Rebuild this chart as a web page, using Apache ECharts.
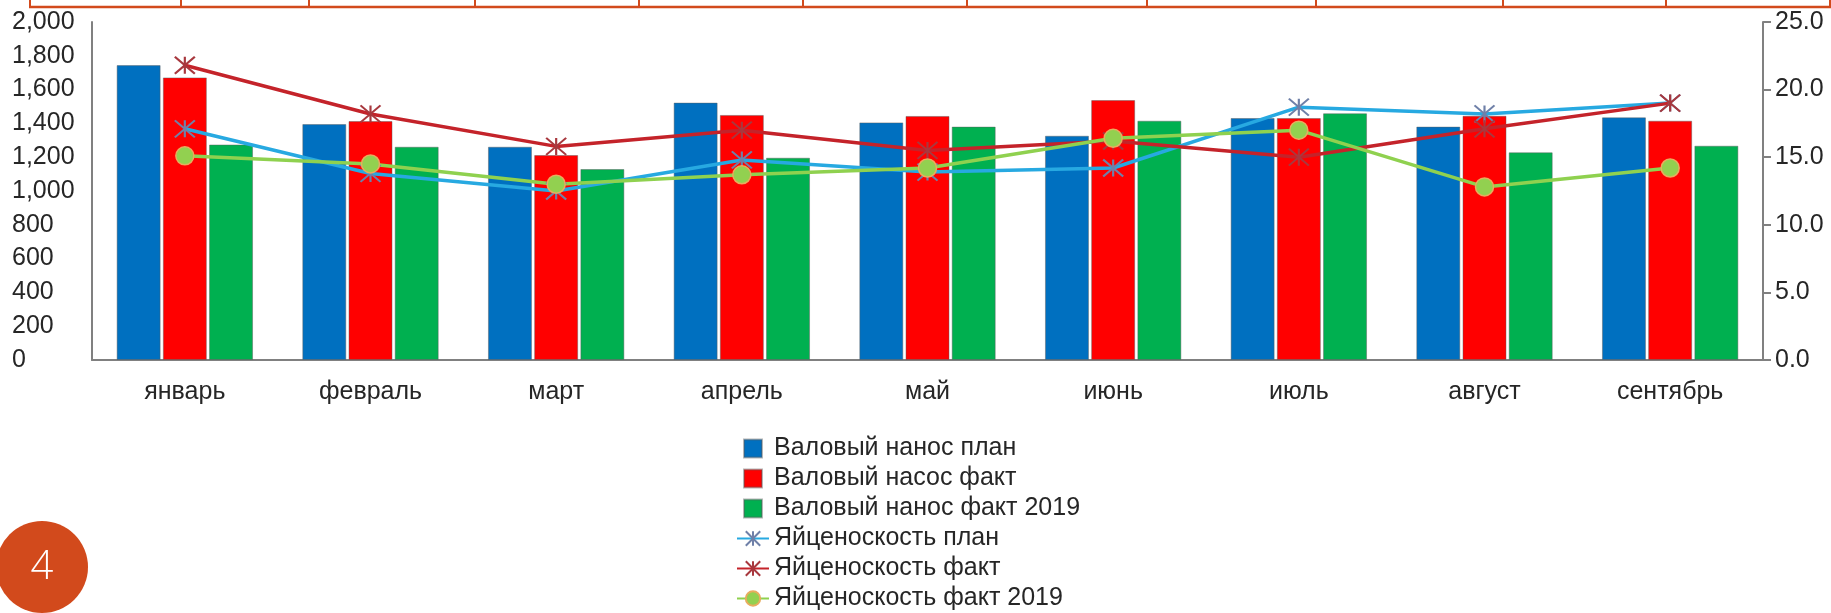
<!DOCTYPE html>
<html>
<head>
    <meta charset="utf-8">
    <title>Валовый нанос и яйценоскость</title>
    <script src="https://cdn.jsdelivr.net/npm/echarts@6/dist/echarts.min.js"></script>
    <style>
        html, body { margin: 0; padding: 0; background: #fff; }
        #main { width: 1831px; height: 613px; }
    </style>
</head>
<body>
    <div id="main"></div>

    <script type="text/javascript">
        // месяцы (ось X)
        var months = ['январь', 'февраль', 'март', 'апрель', 'май', 'июнь', 'июль', 'август', 'сентябрь'];

        // валовый нанос (левая ось)
        var nanosPlan = [1745, 1396, 1262, 1523, 1406, 1327, 1432, 1381, 1436];
        var nanosFact = [1672, 1414, 1213, 1450, 1444, 1538, 1432, 1445, 1416];
        var nanosFact2019 = [1275, 1262, 1130, 1197, 1381, 1416, 1460, 1229, 1268];

        // яйценоскость (правая ось)
        var eggPlan = [17.1, 13.8, 12.5, 14.8, 13.9, 14.2, 18.7, 18.2, 19.0];
        var eggFact = [21.8, 18.2, 15.8, 17.0, 15.5, 16.2, 15.0, 17.1, 19.0];
        var eggFact2019 = [15.1, 14.5, 13.0, 13.7, 14.2, 16.4, 17.0, 12.8, 14.2];

        var leftTicks = [0, 2000, 200];
        var rightTicks = [0, 25, 5];

        var names = [
            'Валовый нанос план',
            'Валовый насос факт',
            'Валовый нанос факт 2019',
            'Яйценоскость план',
            'Яйценоскость факт',
            'Яйценоскость факт 2019'
        ];

        var font = "'Liberation Sans', Arial, sans-serif";
        var textColor = '#262626';
        var axisColor = '#808080';
        var orange = '#d24a1c';
        var starIcon = 'path://M0,0L20,16M20,0L0,16M10,0L10,16';
        var squareIcon = 'path://M0,0H10V10H0Z';

        var chart = echarts.init(document.getElementById('main'));
        chart.setOption({
            animation: false,
            textStyle: { fontFamily: font },
            grid: {
                left: 92, right: 68, top: 22, bottom: 253
            },
            legend: {
                orient: 'vertical',
                left: 736,
                top: 436,
                height: 177,
                padding: 0,
                itemWidth: 32,
                itemHeight: 18,
                itemGap: 5,
                textStyle: { fontFamily: font, fontSize: 25, lineHeight: 25, color: textColor },
                data: [
                    { name: names[0], icon: squareIcon },
                    { name: names[1], icon: squareIcon },
                    { name: names[2], icon: squareIcon },
                    names[3], names[4], names[5]
                ]
            },
            xAxis: {
                type: 'category',
                data: months,
                axisLine: { show: true, lineStyle: { color: axisColor, width: 2 } },
                axisTick: { show: false },
                axisLabel: { color: textColor, fontSize: 25, margin: 20, fontFamily: font }
            },
            yAxis: [
                {
                    type: 'value',
                    min: leftTicks[0], max: leftTicks[1], interval: leftTicks[2],
                    splitLine: { show: false },
                    axisLine: { show: true, lineStyle: { color: axisColor, width: 2 } },
                    axisTick: { show: false },
                    axisLabel: {
                        color: textColor, fontSize: 25, fontFamily: font,
                        align: 'left', margin: 80,
                        formatter: function (v) { return v.toLocaleString('en-US'); }
                    }
                },
                {
                    type: 'value',
                    min: rightTicks[0], max: rightTicks[1], interval: rightTicks[2],
                    position: 'right',
                    splitLine: { show: false },
                    axisLine: { show: true, lineStyle: { color: axisColor, width: 2 } },
                    axisTick: { show: true, length: 8, lineStyle: { color: axisColor, width: 2 } },
                    axisLabel: {
                        color: textColor, fontSize: 25, fontFamily: font, margin: 12,
                        formatter: function (v) { return v.toFixed(1); }
                    }
                }
            ],
            series: [
                {
                    name: names[0], type: 'bar', data: nanosPlan,
                    barWidth: 44, barGap: '5%',
                    itemStyle: { color: '#0070c0', borderColor: 'rgba(90,90,90,0.45)', borderWidth: 1 }
                },
                {
                    name: names[1], type: 'bar', data: nanosFact,
                    barWidth: 44, barGap: '5%',
                    itemStyle: { color: '#ff0000', borderColor: 'rgba(90,90,90,0.45)', borderWidth: 1 }
                },
                {
                    name: names[2], type: 'bar', data: nanosFact2019,
                    barWidth: 44, barGap: '5%',
                    itemStyle: { color: '#00b050', borderColor: 'rgba(90,90,90,0.45)', borderWidth: 1 }
                },
                {
                    name: names[3], type: 'line', yAxisIndex: 1, data: eggPlan,
                    symbol: starIcon, symbolSize: [20, 17],
                    lineStyle: { color: '#27a9e1', width: 3.5 },
                    itemStyle: { color: 'rgba(0,0,0,0)', borderColor: '#6f80a8', borderWidth: 2 }
                },
                {
                    name: names[4], type: 'line', yAxisIndex: 1, data: eggFact,
                    symbol: starIcon, symbolSize: [20, 17],
                    lineStyle: { color: '#c4232a', width: 3.5 },
                    itemStyle: { color: 'rgba(0,0,0,0)', borderColor: '#a8383e', borderWidth: 2 }
                },
                {
                    name: names[5], type: 'line', yAxisIndex: 1, data: eggFact2019,
                    symbol: 'circle', symbolSize: 18,
                    lineStyle: { color: '#8fd14f', width: 3.5 },
                    itemStyle: { color: '#92d050', borderColor: '#e8ac5e', borderWidth: 1.5 }
                }
            ],
            graphic: [
                // верхняя рамка слайда
                { type: 'line', shape: { x1: 29, y1: 7, x2: 1831, y2: 7 }, style: { stroke: orange, lineWidth: 2.5 } },
                { type: 'line', shape: { x1: 30, y1: 0, x2: 30, y2: 7 }, style: { stroke: orange, lineWidth: 2 } },
                { type: 'line', shape: { x1: 181, y1: 0, x2: 181, y2: 7 }, style: { stroke: orange, lineWidth: 2 } },
                { type: 'line', shape: { x1: 309, y1: 0, x2: 309, y2: 7 }, style: { stroke: orange, lineWidth: 2 } },
                { type: 'line', shape: { x1: 475, y1: 0, x2: 475, y2: 7 }, style: { stroke: orange, lineWidth: 2 } },
                { type: 'line', shape: { x1: 639, y1: 0, x2: 639, y2: 7 }, style: { stroke: orange, lineWidth: 2 } },
                { type: 'line', shape: { x1: 803, y1: 0, x2: 803, y2: 7 }, style: { stroke: orange, lineWidth: 2 } },
                { type: 'line', shape: { x1: 967, y1: 0, x2: 967, y2: 7 }, style: { stroke: orange, lineWidth: 2 } },
                { type: 'line', shape: { x1: 1147, y1: 0, x2: 1147, y2: 7 }, style: { stroke: orange, lineWidth: 2 } },
                { type: 'line', shape: { x1: 1316, y1: 0, x2: 1316, y2: 7 }, style: { stroke: orange, lineWidth: 2 } },
                { type: 'line', shape: { x1: 1503, y1: 0, x2: 1503, y2: 7 }, style: { stroke: orange, lineWidth: 2 } },
                { type: 'line', shape: { x1: 1666, y1: 0, x2: 1666, y2: 7 }, style: { stroke: orange, lineWidth: 2 } },
                { type: 'line', shape: { x1: 1830, y1: 0, x2: 1830, y2: 7 }, style: { stroke: orange, lineWidth: 2 } },
                // номер слайда
                { type: 'circle', shape: { cx: 42, cy: 567, r: 46 }, style: { fill: orange } },
                {
                    type: 'text', x: 42, y: 568,
                    style: {
                        text: '4', fill: '#fff', fontSize: 40, fontWeight: 300,
                        fontFamily: "'Open Sans', 'Liberation Sans', sans-serif",
                        align: 'center', verticalAlign: 'middle'
                    }
                }
            ]
        });
    </script>
</body>
</html>
